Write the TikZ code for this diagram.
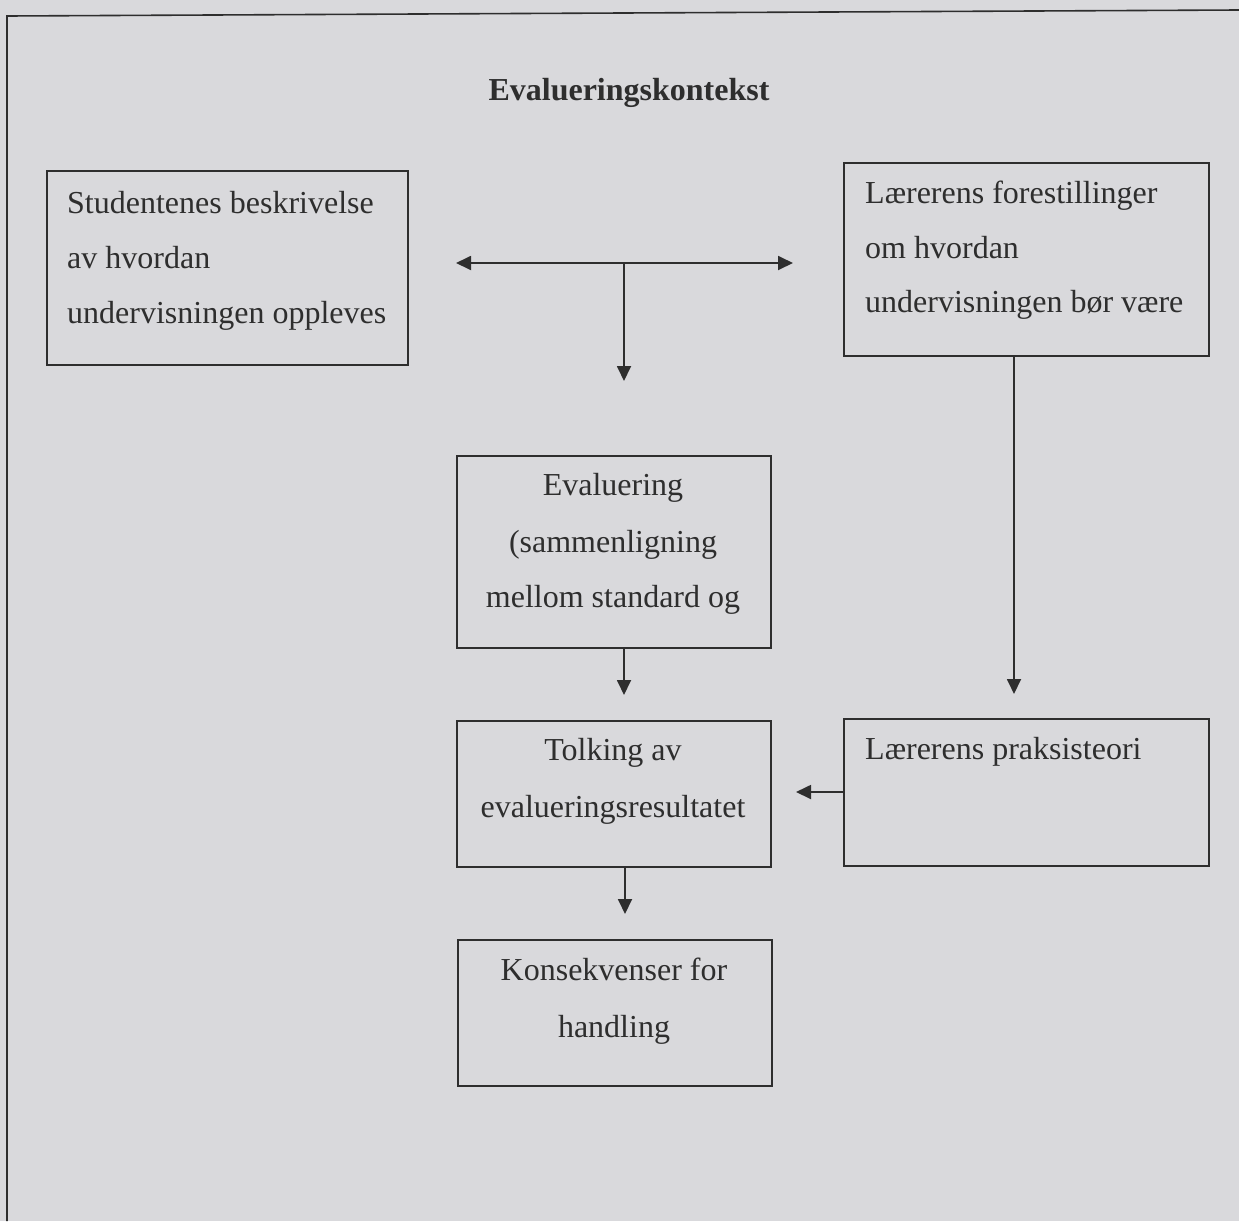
\documentclass[tikz,border=0pt]{standalone}
\usepackage{fontspec}
\setmainfont{Liberation Serif}
\usetikzlibrary{arrows.meta}
\definecolor{paper}{RGB}{217,217,220}
\definecolor{ink}{RGB}{46,46,46}
\tikzset{
  box/.style={draw=ink, line width=1.8pt, rectangle, inner sep=0pt, anchor=north west},
  txt/.style={text=ink, font=\fontsize{32}{55}\selectfont, inner sep=0pt},
  arr/.style={draw=ink, line width=1.8pt, -{Triangle[length=15pt,width=14pt]}},
  darr/.style={draw=ink, line width=1.8pt, {Triangle[length=15pt,width=14pt]}-{Triangle[length=15pt,width=14pt]}},
  frame/.style={draw=ink, line width=1.6pt}
}
\begin{document}
\begin{tikzpicture}[x=1pt,y=-1pt]
\fill[paper] (0,0) rectangle (1239,1221);
\useasboundingbox (0,0) rectangle (1239,1221);
% outer frame
\coordinate (ftl) at (7,16);
\coordinate (ftr) at (1239,10);
\coordinate (fbl) at (7,1221);
\draw[frame] (fbl) -- (ftl) -- (ftr);
% title
\node[txt, anchor=base, font=\fontsize{32}{55}\selectfont\bfseries] (title) at (629,100) {Evalueringskontekst};
% boxes
\node[box, minimum width=361pt, minimum height=194pt] (A) at (46,170) {};
\node[box, minimum width=365pt, minimum height=193pt] (B) at (843,162) {};
\node[box, minimum width=314pt, minimum height=192pt] (C) at (456,455) {};
\node[box, minimum width=314pt, minimum height=146pt] (D) at (456,720) {};
\node[box, minimum width=365pt, minimum height=147pt] (E) at (843,718) {};
\node[box, minimum width=314pt, minimum height=146pt] (F) at (457,939) {};
% texts
\node[txt, anchor=base west] (tA1) at (67,213) {Studentenes beskrivelse};
\node[txt, anchor=base west] (tA2) at (67,268) {av hvordan};
\node[txt, anchor=base west] (tA3) at (67,323) {undervisningen oppleves};
\node[txt, anchor=base west] (tB1) at (865,203) {Lærerens forestillinger};
\node[txt, anchor=base west] (tB2) at (865,258) {om hvordan};
\node[txt, anchor=base west] (tB3) at (865,312) {undervisningen bør være};
\node[txt, anchor=base] (tC1) at (613,495) {Evaluering};
\node[txt, anchor=base] (tC2) at (613,552) {(sammenligning};
\node[txt, anchor=base] (tC3) at (613,607) {mellom standard og};
\node[txt, anchor=base] (tD1) at (613,760) {Tolking av};
\node[txt, anchor=base] (tD2) at (613,817) {evalueringsresultatet};
\node[txt, anchor=base west] (tE1) at (865,759) {Lærerens praksisteori};
\node[txt, anchor=base] (tF1) at (614,980) {Konsekvenser for};
\node[txt, anchor=base] (tF2) at (614,1037) {handling};
% connectors
\coordinate (hl) at (456,263);
\coordinate (hr) at (793,263);
\coordinate (hm) at (624,263);
\coordinate (hv) at (624,381);
\draw[darr] (hl) -- (hr);
\draw[arr] (hm) -- (hv);
\coordinate (cd) at (624,695);
\draw[arr] (624,0 |- C.south) -- (cd);
\coordinate (be) at (1014,694);
\draw[arr] (1014,0 |- B.south) -- (be);
\coordinate (ed) at (796,792);
\draw[arr] (E.west |- 0,792) -- (ed);
\coordinate (df) at (625,914);
\draw[arr] (625,0 |- D.south) -- (df);
\end{tikzpicture}
\end{document}
